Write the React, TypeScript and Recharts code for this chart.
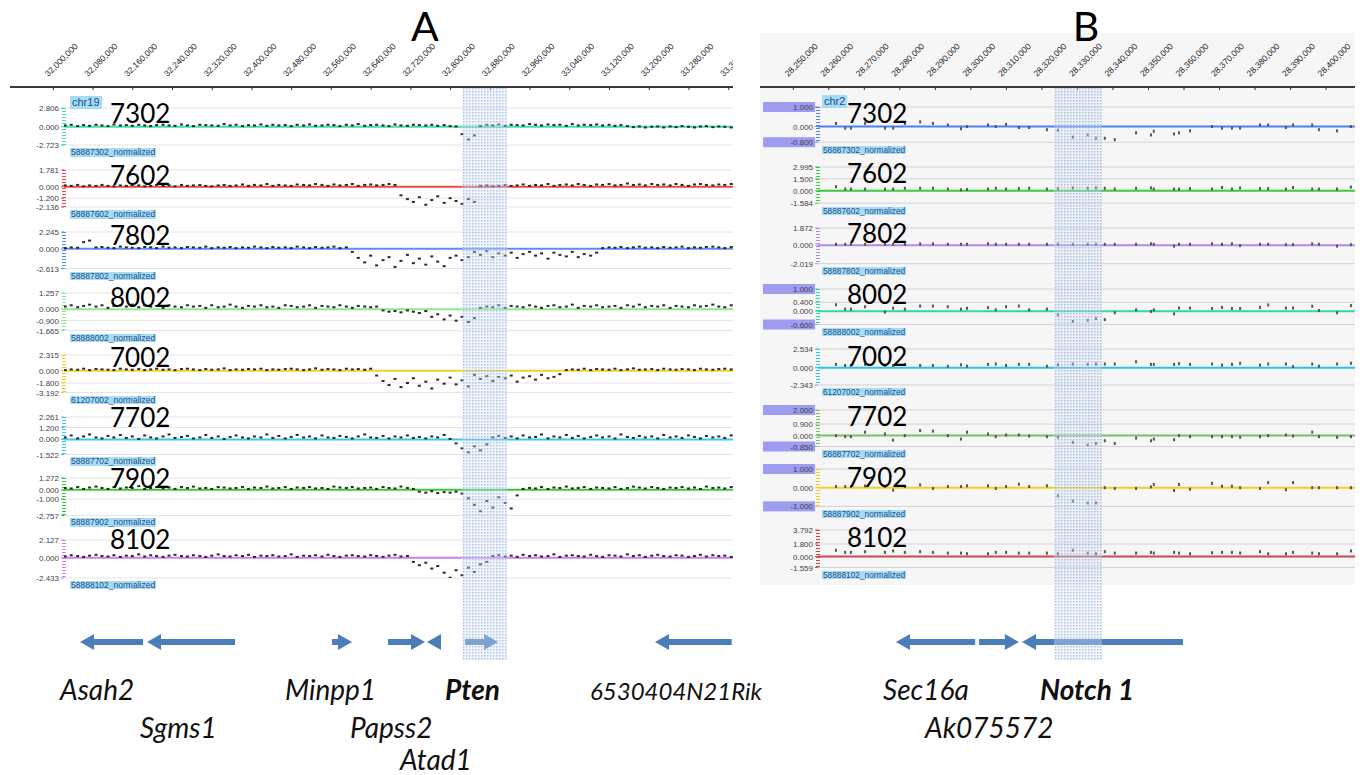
import React from "react";
import { ComposedChart, Scatter, XAxis, YAxis, ReferenceLine, ReferenceArea } from "recharts";

// ---- panel A (chr19, Pten locus) ----
// probe positions in kb
const probesA = [32024,32036,32049,32061,32073,32086,32098,32110,32122,32135,32147,32159,32172,32184,32196,32208,32221,32233,32245,32258,32270,32282,32295,32307,32319,32332,32344,32356,32368,32381,32393,32405,32418,32430,32442,32454,32467,32479,32491,32504,32516,32528,32541,32553,32565,32577,32590,32602,32614,32627,32639,32651,32664,32676,32688,32700,32713,32725,32737,32750,32762,32774,32787,32799,32811,32823,32836,32848,32860,32873,32885,32897,32910,32922,32934,32946,32959,32971,32983,32996,33008,33020,33033,33045,33057,33069,33082,33094,33106,33119,33131,33143,33156,33168,33180,33192,33205,33217,33229,33242,33254,33266,33279,33291,33303,33315,33328,33340,33352,33365];

const a7302 = [0.2,0.3,0.1,0.25,0.15,0.3,0.2,0.1,0.35,0.2,0.25,0.15,0.3,0.2,0.1,0.25,0.3,0.2,0.15,0.35,0.2,0.1,0.3,0.25,0.2,0.15,0.4,0.2,0.3,0.1,0.25,0.2,0.35,0.15,0.3,0.2,0.25,0.1,0.3,0.2,0.35,0.15,0.2,0.3,0.25,0.1,0.3,0.2,0.4,0.15,0.25,0.3,0.2,0.1,0.35,0.2,0.15,0.3,0.25,0.2,0.3,0.15,0.25,0.1,0.05,-1.1,-1.9,-1.3,0.1,0.3,0.2,0.35,0.15,0.3,0.25,0.2,0.4,0.3,0.2,0.35,0.25,0.3,0.15,0.4,0.2,0.3,0.25,0.35,0.2,0.3,0.15,0.25,0.1,-0.05,0.05,-0.1,0,0.05,-0.1,0.05,-0.05,0.1,0,-0.1,0.05,0.1,-0.05,0.05,0,-0.1];
const a7602 = [0.15,0.1,0.2,0.05,0.15,0.1,0.2,0.1,0.05,0.15,0.1,0.2,0.15,0.05,0.1,0.2,0.1,0.15,0.05,0.2,0.1,0.15,0.2,0.1,0.05,0.15,0.2,0.1,0.15,0.25,0.1,0.2,0.15,0.3,0.1,0.2,0.15,0.1,0.25,0.2,0.15,0.3,0.2,0.1,0.25,0.15,0.2,0.3,0.1,0.2,0.25,0.15,0.2,0.3,0.2,-0.9,-1.3,-1.6,-1.1,-1.9,-1.4,-1.0,-1.7,-1.2,-1.5,-1.8,-1.3,-1.6,0.1,0.15,0.05,0.1,0.2,0.1,0.15,0.25,0.1,0.2,0.15,0.3,0.1,0.2,0.25,0.15,0.3,0.2,0.1,0.25,0.2,0.3,0.15,0.2,0.35,0.2,0.25,0.15,0.3,0.2,0.25,0.15,0.3,0.2,0.1,0.25,0.3,0.2,0.15,0.25,0.2,0.3];
const a7802 = [0.1,0.2,0.15,0.9,1.1,0.2,0.25,0.15,0.1,0.3,0.2,0.15,0.1,0.25,0.2,0.1,0.3,0.15,0.2,0.1,0.25,0.2,0.15,0.3,0.1,0.2,0.15,0.25,0.1,0.2,0.15,0.3,0.2,0.1,0.25,0.15,0.2,0.1,0.3,0.2,0.1,0.25,0.15,0.2,0.3,0.1,0.2,-0.4,-1.2,-1.8,-0.9,-2.2,-1.5,-1.1,-2.4,-1.6,-0.8,-1.9,-1.3,-2.1,-1.0,-1.7,-2.3,-1.2,-0.9,-1.5,-1.1,-0.4,-0.8,-0.3,-1.1,-0.6,-0.9,-0.5,-1.2,-0.7,-0.4,-0.9,-0.6,-1.3,-0.5,-0.8,-1.0,-0.4,-1.1,-0.7,-0.9,-0.5,0.1,0.2,0.15,0.25,0.1,0.2,0.3,0.15,0.2,0.1,0.25,0.15,0.2,0.3,0.1,0.2,0.15,0.25,0.3,0.2,0.1,0.25];
const a8002 = [0.2,0.3,0.15,0.25,0.35,0.2,0.3,0.1,0.25,0.3,0.2,0.35,0.15,0.3,0.2,0.25,0.1,0.3,0.2,0.15,0.3,0.2,0.25,0.1,0.3,0.15,0.2,0.35,0.2,0.1,0.25,0.2,0.3,0.15,0.2,0.1,0.3,0.25,0.15,0.2,0.3,0.1,0.25,0.2,0.15,0.3,0.2,0.1,0.25,0.2,0.15,0.2,-0.1,-0.2,-0.15,-0.25,-0.1,-0.2,-0.3,-0.15,-0.6,-0.4,-0.8,-0.5,-0.9,-0.6,-1.0,-0.7,0.1,0.2,0.15,0.3,0.1,0.25,0.2,0.15,0.3,0.2,0.1,0.25,0.3,0.15,0.2,0.35,0.1,0.25,0.2,0.3,0.15,0.2,0.25,0.1,0.3,0.2,0.35,0.15,0.25,0.2,0.3,0.1,0.25,0.2,0.15,0.3,0.2,0.25,0.35,0.2,0.15,0.3];
const a7002 = [0.1,0.2,0.15,0.3,0.1,0.25,0.2,0.15,0.1,0.3,0.2,0.15,0.25,0.1,0.2,0.3,0.15,0.2,0.1,0.25,0.3,0.2,0.1,0.25,0.15,0.2,0.35,0.1,0.2,0.15,0.25,0.2,0.3,0.1,0.2,0.15,0.25,0.3,0.2,0.1,0.2,0.35,0.15,0.25,0.2,0.1,0.3,0.2,0.25,0.15,0.3,-0.7,-1.5,-2.1,-1.2,-2.4,-1.8,-1.1,-2.2,-1.6,-2.6,-1.3,-1.9,-1.0,-2.0,-1.4,-2.3,-0.6,-1.2,-0.8,-1.5,-0.9,-1.1,-0.7,-1.6,-1.0,-0.8,-1.3,-0.6,-1.1,-0.9,-0.5,0.1,0.2,0.15,0.3,0.1,0.25,0.2,0.15,0.3,0.1,0.2,0.35,0.15,0.2,0.25,0.1,0.3,0.2,0.15,0.25,0.2,0.1,0.3,0.2,0.15,0.25,0.3,0.2];
const a7702 = [0.2,0.4,0.1,0.3,0.5,0.2,0.1,0.35,0.2,0.45,0.15,0.3,0.05,0.4,0.2,0.1,0.3,0.5,0.15,0.25,0.35,0.1,0.2,0.45,0.15,0.3,0.05,0.25,0.4,0.2,0.1,0.3,0.2,0.5,0.15,0.35,0.1,0.25,0.45,0.2,0.3,0.1,0.4,0.2,0.15,0.35,0.25,0.1,0.3,0.5,0.2,0.15,0.35,0.1,0.3,0.2,0.4,0.15,0.25,0.1,0.3,0.2,0.45,0.05,-0.4,-0.9,-1.3,-0.7,-1.1,-0.5,0.2,0.35,0.15,0.3,0.1,0.4,0.2,0.25,0.5,0.1,0.3,0.2,0.45,0.15,0.35,0.1,0.25,0.4,0.2,0.3,0.1,0.5,0.25,0.15,0.35,0.2,0.3,0.1,0.45,0.2,0.3,0.15,0.4,0.25,0.1,0.35,0.2,0.3,0.15,0.4];
const a7902 = [0.2,0.15,0.3,0.1,0.25,0.35,0.2,0.1,0.3,0.15,0.25,0.2,0.4,0.1,0.2,0.3,0.15,0.25,0.1,0.3,0.2,0.35,0.15,0.2,0.1,0.3,0.25,0.15,0.2,0.3,0.1,0.25,0.2,0.35,0.15,0.2,0.3,0.1,0.25,0.2,0.3,0.15,0.2,0.1,0.35,0.25,0.2,0.3,0.15,0.2,0.25,0.1,0.3,0.2,0.15,0.35,0.2,0.1,-0.2,-0.3,-0.15,-0.35,-0.25,-0.3,-0.2,-0.4,-0.9,-1.6,-2.3,-1.2,-1.9,-0.8,-1.4,-2.0,-0.6,0.1,0.2,0.15,0.3,0.1,0.25,0.2,0.35,0.15,0.2,0.3,0.1,0.25,0.2,0.15,0.3,0.1,0.2,0.35,0.25,0.15,0.3,0.2,0.1,0.25,0.2,0.3,0.15,0.25,0.1,0.35,0.2,0.25,0.15,0.3];
const a8102 = [0.15,0.3,0.2,0.1,0.25,0.35,0.2,0.15,0.3,0.1,0.25,0.2,0.4,0.15,0.3,0.2,0.1,0.25,0.35,0.2,0.15,0.3,0.2,0.1,0.25,0.4,0.2,0.15,0.3,0.2,0.35,0.1,0.25,0.2,0.3,0.15,0.2,0.4,0.1,0.25,0.2,0.3,0.15,0.35,0.2,0.1,0.25,0.3,0.2,0.15,0.3,0.2,0.1,0.25,0.35,0.15,0.2,-0.5,-0.9,-0.6,-1.3,-1.0,-1.8,-2.4,-1.5,-2.1,-1.2,-1.7,-0.8,-0.5,0.2,0.3,0.15,0.25,0.1,0.35,0.2,0.3,0.15,0.2,0.4,0.1,0.25,0.3,0.2,0.15,0.35,0.2,0.1,0.3,0.25,0.15,0.4,0.2,0.3,0.1,0.25,0.35,0.2,0.15,0.3,0.25,0.1,0.2,0.35,0.15,0.3,0.2,0.25,0.1];

// ---- panel B (chr2, Notch1 locus) ----
const probesB = [28262.0,28264.6,28266.2,28270.2,28275.8,28278.1,28281.4,28285.7,28289.3,28293.5,28297.2,28298.9,28304.8,28307.0,28309.9,28313.5,28316.4,28321.4,28324.5,28328.7,28332.9,28335.2,28337.7,28340.5,28346.5,28350.7,28351.5,28357.2,28358.6,28361.7,28367.9,28370.7,28373.5,28375.8,28381.4,28383.7,28388.7,28390.7,28396.1,28398.0,28403.1,28407.0];

const b7302 = [0.16,-0.08,-0.08,0.16,-0.08,-0.08,0.16,0.24,0.16,0.08,-0.11,0,0.08,0,0.11,-0.05,-0.05,-0.16,-0.19,-0.54,-0.43,-0.6,-0.6,-0.67,-0.32,-0.43,-0.24,-0.38,-0.32,-0.22,0,-0.08,-0.08,-0.08,0.08,0.08,-0.05,0.08,0.08,-0.16,-0.22,0];
const b7602 = [0.5,0.2,0.2,0.2,0.2,0.2,0.3,0.3,0.3,0.2,0.1,0.15,0.2,0.3,0.2,0.25,0.3,0.2,0.25,0.35,0.3,0.35,0.3,0.2,0.3,0.35,0.2,0.2,0.2,0.25,0.2,0.4,0.2,0.35,0.25,0.25,0.2,0.4,0.2,0.2,0.2,0.45];
const b7802 = [0.1,0.1,0.1,0.1,0.1,0.1,0.1,0.15,0.15,0.1,0.1,0.1,0.15,0.1,0.1,0.1,0.1,0.1,0.1,0.1,0.1,0.1,0.1,0.1,0.1,0.15,0.1,-0.1,0.1,0.1,0.15,0.1,0.15,-0.05,0.1,0.1,0.05,0.05,0.15,0.1,-0.1,0.05];
const b8002 = [0.29,0.09,0.09,0.2,-0.04,0.13,0.09,0.23,0.23,0.2,0.09,0.13,0.16,0.06,0.2,0.23,0.06,0.09,-0.16,-0.46,-0.41,-0.33,-0.38,-0.07,0.06,-0.01,0.06,-0.12,0.14,0.14,0.12,0.17,0.12,0.12,0.17,0.28,0.14,0.14,0.22,0.03,-0.07,0.25];
const b7002 = [0.45,0.3,0.3,0.45,0.3,0.3,0.45,0.3,0.3,0.2,0.4,0.2,0.45,0.5,0.3,0.45,0.45,0.2,0.4,0.5,0.45,0.5,0.5,0.5,0.8,0.45,0.45,0.45,0.55,0.45,0.5,0.35,0.45,0.6,0.35,0.5,0.5,0.15,0.5,0.2,0.5,0.6];
const b7702 = [0,-0.08,-0.08,0.27,0.13,-0.35,0,0.4,0.35,0,-0.27,0.27,0.13,-0.08,0.05,0.05,-0.03,-0.08,-0.13,-0.53,-0.75,-0.61,-0.4,-0.61,-0.19,-0.4,-0.27,-0.32,0,-0.08,-0.08,-0.08,-0.08,-0.13,-0.08,0,0.05,-0.03,0.27,-0.08,-0.13,-0.08];
const b7902 = [0.06,0.06,0.06,0.1,0.06,-0.13,0.06,0.15,-0.04,0.06,0.06,0.1,0.1,-0.04,0.06,0.19,0.06,0.1,-0.44,-0.72,-0.82,-0.82,0,-0.04,-0.04,0.04,0.17,-0.15,0.17,-0.08,0.23,0.08,0.08,0,-0.04,0.27,-0.11,0.27,0,0,0,0];
const b8102 = [0.9,0.6,0.6,0.7,0.6,0.8,0.6,0.7,0.6,0.5,0.5,0.4,0.4,0.6,0.6,0.5,0.5,0.5,0.4,0.9,0.5,0.4,0.7,0.5,0.5,0.6,0.5,0.6,0.5,0.4,0.55,0.6,0.6,0.5,0.7,0.4,0.4,0.6,0.5,0.4,0.4,0.8];

// genome ruler ticks (kb)
const rulerA = [32000,32080,32160,32240,32320,32400,32480,32560,32640,32720,32800,32880,32960,33040,33120,33200,33280,33360];
const rulerB = [28250,28260,28270,28280,28290,28300,28310,28320,28330,28340,28350,28360,28370,28380,28390,28400];

// highlighted region (kb)
const highlightA = [32823.5, 32914.2];
const highlightB = [28323.4, 28336.9];

const genesA = [
  { name: "Asah2", start: 32053.8, end: 32180.6, strand: "-" },
  { name: "Sgms1", start: 32188.7, end: 32365.9, strand: "-" },
  { name: "Minpp1", start: 32561.2, end: 32601.5, strand: "+" },
  { name: "Papss2", start: 32674.0, end: 32748.5, strand: "+" },
  { name: "Atad1", start: 32752.5, end: 32780.7, strand: "-" },
  { name: "Pten", start: 32829.0, end: 32895.5, strand: "+" },
  { name: "6530404N21Rik", start: 33211.6, end: 33366.0, strand: "-" },
];
const genesB = [
  { name: "Sec16a", start: 28278.9, end: 28301.2, strand: "-" },
  { name: "Ak075572", start: 28302.3, end: 28313.5, strand: "+" },
  { name: "Notch 1", start: 28314.4, end: 28359.7, strand: "-" },
];

const tracksA = [
  { label: "7302", name: "58887302_normalized", values: a7302, ticks: [2.806, 0, -2.723], color: "#3fe0a8" },
  { label: "7602", name: "58887602_normalized", values: a7602, ticks: [1.781, 0, -1.2, -2.136], color: "#f04848" },
  { label: "7802", name: "58887802_normalized", values: a7802, ticks: [2.245, 0, -2.613], color: "#5b8ef5" },
  { label: "8002", name: "58888002_normalized", values: a8002, ticks: [1.257, 0, -0.9, -1.665], color: "#8fe88f" },
  { label: "7002", name: "61207002_normalized", values: a7002, ticks: [2.315, 0, -1.8, -3.192], color: "#f2d22a" },
  { label: "7702", name: "58887702_normalized", values: a7702, ticks: [2.261, 1.2, 0, -1.522], color: "#3cc8f5" },
  { label: "7902", name: "58887902_normalized", values: a7902, ticks: [1.272, 0, -1, -2.757], color: "#3cc83c" },
  { label: "8102", name: "58888102_normalized", values: a8102, ticks: [2.127, 0, -2.433], color: "#d07cf0" },
];
const tracksB = [
  { label: "7302", name: "58887302_normalized", values: b7302, ticks: [1, 0, -0.8], boxed: [1, -0.8], color: "#4f7ef0" },
  { label: "7602", name: "58887602_normalized", values: b7602, ticks: [2.995, 1.5, 0, -1.584], boxed: [], color: "#3cc83c" },
  { label: "7802", name: "58887802_normalized", values: b7802, ticks: [1.872, 0, -2.019], boxed: [], color: "#b48ae8" },
  { label: "8002", name: "58888002_normalized", values: b8002, ticks: [1, 0.4, 0, -0.6], boxed: [1, -0.6], color: "#2ed8a0" },
  { label: "7002", name: "61207002_normalized", values: b7002, ticks: [2.534, 0, -2.343], boxed: [], color: "#2ec0e8" },
  { label: "7702", name: "58887702_normalized", values: b7702, ticks: [2, 0.9, 0, -0.85], boxed: [2, -0.85], color: "#78c060" },
  { label: "7902", name: "58887902_normalized", values: b7902, ticks: [1, 0, -1], boxed: [1, -1], color: "#f0d020" },
  { label: "8102", name: "58888102_normalized", values: b8102, ticks: [3.792, 1.8, 0, -1.559], boxed: [], color: "#d04848" },
];

// layout: pixel rows of each track (top of range, bottom of range), label baselines
const rowsA = [[108.3, 145.3], [170, 207], [232, 268.5], [293, 330.5], [355, 392.5], [416.5, 454], [477.5, 515], [539.5, 577.5]];
const rowsB = [[107.3, 142.5], [167.3, 203.5], [228.3, 264], [289, 324.5], [349, 385], [410, 446.5], [469.3, 506.7], [530, 567.5]];
const bigLabelYA = [123, 185, 245, 307, 367, 427, 488, 549];
const bigLabelYB = [123, 183, 243, 304, 366, 426, 487, 547];
const geneLabelPos: Record<string, { x: number; y: number; size: number; bold?: boolean }> = {
  Asah2: { x: 60, y: 700, size: 28 },
  Sgms1: { x: 140, y: 738, size: 28 },
  Minpp1: { x: 285, y: 700, size: 28 },
  Papss2: { x: 350, y: 738, size: 28 },
  Atad1: { x: 400, y: 770, size: 28 },
  Pten: { x: 445, y: 700, size: 28, bold: true },
  "6530404N21Rik": { x: 590, y: 700, size: 24 },
  Sec16a: { x: 883, y: 700, size: 28 },
  Ak075572: { x: 925, y: 738, size: 28 },
  "Notch 1": { x: 1040, y: 700, size: 28, bold: true },
};

const SANS = '"Liberation Sans", Arial, sans-serif';
const LATO = 'Lato, "Open Sans", sans-serif';
const ARROW = "#4a7ebb";

const panelA = { id: "A", plotLeft: 64, plotRight: 733, axisWidth: 60, domain: [32021.5, 33368.6], grid: "#e4e4e4", dotW: 3, dotH: 2, dotFill: "#2a2a2a" };
const panelB = { id: "B", plotLeft: 818, plotRight: 1355, axisWidth: 58, domain: [28256.95, 28408.14], grid: "#d2d2d2", dotW: 2, dotH: 3, dotFill: "#555" };

const fmtBp = (kb: number) => Math.round(kb * 1000).toLocaleString("en-US");
const noShape = () => <g />;

function TopAxis({ left, width, domain, ticks }: any) {
  return (
    <div style={{ position: "absolute", left, top: 0 }}>
      <ComposedChart width={width} height={95} margin={{ top: 0, right: 0, bottom: 0, left: 0 }} data={ticks.map((t: number) => ({ x: t }))}>
        <XAxis
          orientation="top"
          type="number"
          dataKey="x"
          domain={domain}
          allowDataOverflow
          ticks={ticks}
          interval={0}
          height={87}
          tickSize={0}
          tickMargin={0}
          tickLine={false}
          axisLine={{ stroke: "#3a3a3a", strokeWidth: 2 }}
          tick={(p: any) => (
            <g>
              <line x1={p.x} y1={p.y} x2={p.x} y2={p.y + 3} stroke="#333" />
              <text x={p.x - 5} y={p.y - 10} transform={`rotate(-45 ${p.x - 5} ${p.y - 10})`} fontSize={8.5} fill="#1a1a1a" fontFamily={SANS}>
                {fmtBp(p.payload.value)}
              </text>
            </g>
          )}
        />
        <YAxis hide />
      </ComposedChart>
    </div>
  );
}

function Track({ panel, track, row, probes }: any) {
  const [yTop, yBot] = row;
  const pad = 6;
  const left = panel.plotLeft - panel.axisWidth;
  const width = panel.plotRight - left;
  const lo = Math.min(...track.ticks);
  const hi = Math.max(...track.ticks);
  const data = probes.map((x: number, i: number) => ({ x, y: track.values[i] }));
  const boxed: number[] = track.boxed || [];
  return (
    <div style={{ position: "absolute", left, top: yTop - pad }}>
      <ComposedChart width={width} height={yBot - yTop + pad * 2} margin={{ top: pad, right: 0, bottom: pad, left: 0 }}>
        <XAxis type="number" dataKey="x" domain={panel.domain} allowDataOverflow hide />
        <YAxis
          type="number"
          domain={[lo, hi]}
          allowDataOverflow
          ticks={track.ticks}
          interval={0}
          width={panel.axisWidth}
          tickSize={3}
          tickMargin={2}
          tickLine={{ stroke: track.color }}
          axisLine={{ stroke: track.color, strokeWidth: 4, strokeDasharray: "1 2" }}
          tick={(p: any) => (
            <g>
              {boxed.includes(p.payload.value) && <rect x={p.x - 50} y={p.y - 5} width={52} height={10} fill="#9c9cf0" />}
              <text x={p.x} y={p.y + 3} textAnchor="end" fontSize={8} fill="#444" fontFamily={SANS}>
                {p.payload.value.toFixed(3)}
              </text>
            </g>
          )}
        />
        {track.ticks.filter((t: number) => t !== 0).map((t: number) => (
          <ReferenceLine key={t} y={t} stroke={panel.grid} strokeWidth={1} />
        ))}
        <ReferenceLine y={0} stroke={track.color} strokeWidth={2} />
        <Scatter
          data={data}
          dataKey="y"
          isAnimationActive={false}
          shape={(p: any) => <rect x={p.cx - panel.dotW / 2} y={p.cy - panel.dotH / 2} width={panel.dotW} height={panel.dotH} fill={panel.dotFill} />}
        />
      </ComposedChart>
    </div>
  );
}

function Highlight({ panel, range }: any) {
  const id = "hl" + panel.id;
  const pts = range.map((x: number) => ({ x, y: 0.5 }));
  return (
    <div style={{ position: "absolute", left: panel.plotLeft, top: 88, pointerEvents: "none" }}>
      <ComposedChart width={panel.plotRight - panel.plotLeft} height={572} margin={{ top: 0, right: 0, bottom: 0, left: 0 }}>
        <defs>
          <pattern id={id} width={3} height={3} patternUnits="userSpaceOnUse">
            <rect width={3} height={3} fill="#dbe6f7" fillOpacity={0.35} />
            <rect width={1.5} height={1.5} fill="#7d9fd8" fillOpacity={0.6} />
          </pattern>
        </defs>
        <XAxis type="number" dataKey="x" domain={panel.domain} allowDataOverflow hide />
        <YAxis type="number" dataKey="y" domain={[0, 1]} allowDataOverflow hide />
        <Scatter data={pts} dataKey="y" isAnimationActive={false} shape={noShape} />
        <ReferenceArea x1={range[0]} x2={range[1]} y1={0} y2={1} fill={`url(#${id})`} fillOpacity={1} stroke="none" />
      </ComposedChart>
    </div>
  );
}

function arrowShape(strand: string) {
  return (p: any) => {
    const xa = Math.min(p.x1, p.x2);
    const xb = Math.max(p.x1, p.x2);
    const y = p.y1;
    const L = Math.min(14, xb - xa);
    let pts: number[][];
    if (strand === "+") {
      pts = [[xa, y - 3], [xb - L, y - 3], [xb - L, y - 8], [xb, y], [xb - L, y + 8], [xb - L, y + 3], [xa, y + 3]];
    } else {
      pts = [[xb, y - 3], [xa + L, y - 3], [xa + L, y - 8], [xa, y], [xa + L, y + 8], [xa + L, y + 3], [xb, y + 3]];
    }
    return <polygon points={pts.map((q) => q.join(",")).join(" ")} fill={ARROW} />;
  };
}

function Genes({ panel, genes }: any) {
  const pts = genes.map((g: any) => ({ x: g.start, y: 0 }));
  return (
    <div style={{ position: "absolute", left: panel.plotLeft, top: 620 }}>
      <ComposedChart width={panel.plotRight - panel.plotLeft} height={44} margin={{ top: 0, right: 0, bottom: 0, left: 0 }}>
        <XAxis type="number" dataKey="x" domain={panel.domain} allowDataOverflow hide />
        <YAxis type="number" dataKey="y" domain={[-1, 1]} allowDataOverflow hide />
        <Scatter data={pts} dataKey="y" isAnimationActive={false} shape={noShape} />
        {genes.map((g: any) => (
          <ReferenceLine
            key={g.name}
            segment={[{ x: g.start, y: 0 }, { x: g.end, y: 0 }]}
            stroke={ARROW}
            shape={arrowShape(g.strand)}
          />
        ))}
      </ComposedChart>
    </div>
  );
}

const tagStyle: React.CSSProperties = {
  position: "absolute",
  background: "#a6dcf5",
  color: "#1d4f8a",
  fontFamily: SANS,
  lineHeight: 1,
  padding: "0 1px",
  whiteSpace: "nowrap",
};

export default function App() {
  return (
    <div style={{ position: "absolute", left: 0, top: 0, width: 1363, height: 775, background: "#fff", overflow: "hidden" }}>
      <div style={{ position: "absolute", left: 760, top: 33, width: 595, height: 552, background: "#f6f6f6" }} />

      <TopAxis left={10} width={723} domain={[31912.8, 33368.6]} ticks={rulerA} />
      <TopAxis left={760} width={595} domain={[28240.63, 28408.14]} ticks={rulerB} />

      {tracksA.map((t, i) => (
        <Track key={"A" + i} panel={panelA} track={t} row={rowsA[i]} probes={probesA} />
      ))}
      {tracksB.map((t, i) => (
        <Track key={"B" + i} panel={panelB} track={t} row={rowsB[i]} probes={probesB} />
      ))}

      <Genes panel={panelA} genes={genesA} />
      <Genes panel={panelB} genes={genesB} />

      <Highlight panel={panelA} range={highlightA} />
      <Highlight panel={panelB} range={highlightB} />

      <span style={{ ...tagStyle, left: 70, top: 96, fontSize: 11, padding: "1px 2px" }}>chr19</span>
      <span style={{ ...tagStyle, left: 822, top: 95, fontSize: 11, padding: "1px 2px" }}>chr2</span>
      {tracksA.map((t, i) => (
        <span key={"na" + i} style={{ ...tagStyle, left: 70, top: rowsA[i][1] + 3, fontSize: 8.5 }}>{t.name}</span>
      ))}
      {tracksB.map((t, i) => (
        <span key={"nb" + i} style={{ ...tagStyle, left: 822, top: rowsB[i][1] + 3, fontSize: 8.3 }}>{t.name}</span>
      ))}

      <svg width={1363} height={775} style={{ position: "absolute", left: 0, top: 0, pointerEvents: "none" }}>
        <text x={425} y={41} textAnchor="middle" fontSize={41} fontFamily={LATO} fill="#000">A</text>
        <text x={1086} y={41} textAnchor="middle" fontSize={41} fontFamily={LATO} fill="#000">B</text>
        {tracksA.map((t, i) => (
          <text key={"la" + i} x={110} y={bigLabelYA[i]} fontSize={26} fontFamily={LATO} fill="#000">{t.label}</text>
        ))}
        {tracksB.map((t, i) => (
          <text key={"lb" + i} x={847} y={bigLabelYB[i]} fontSize={26} fontFamily={LATO} fill="#000">{t.label}</text>
        ))}
        {[...genesA, ...genesB].map((g) => {
          const pos = geneLabelPos[g.name];
          return (
            <text key={g.name} x={pos.x} y={pos.y} fontSize={pos.size} fontStyle="italic" fontWeight={pos.bold ? 700 : 400} fontFamily={LATO} fill="#111">
              {g.name}
            </text>
          );
        })}
      </svg>
    </div>
  );
}
